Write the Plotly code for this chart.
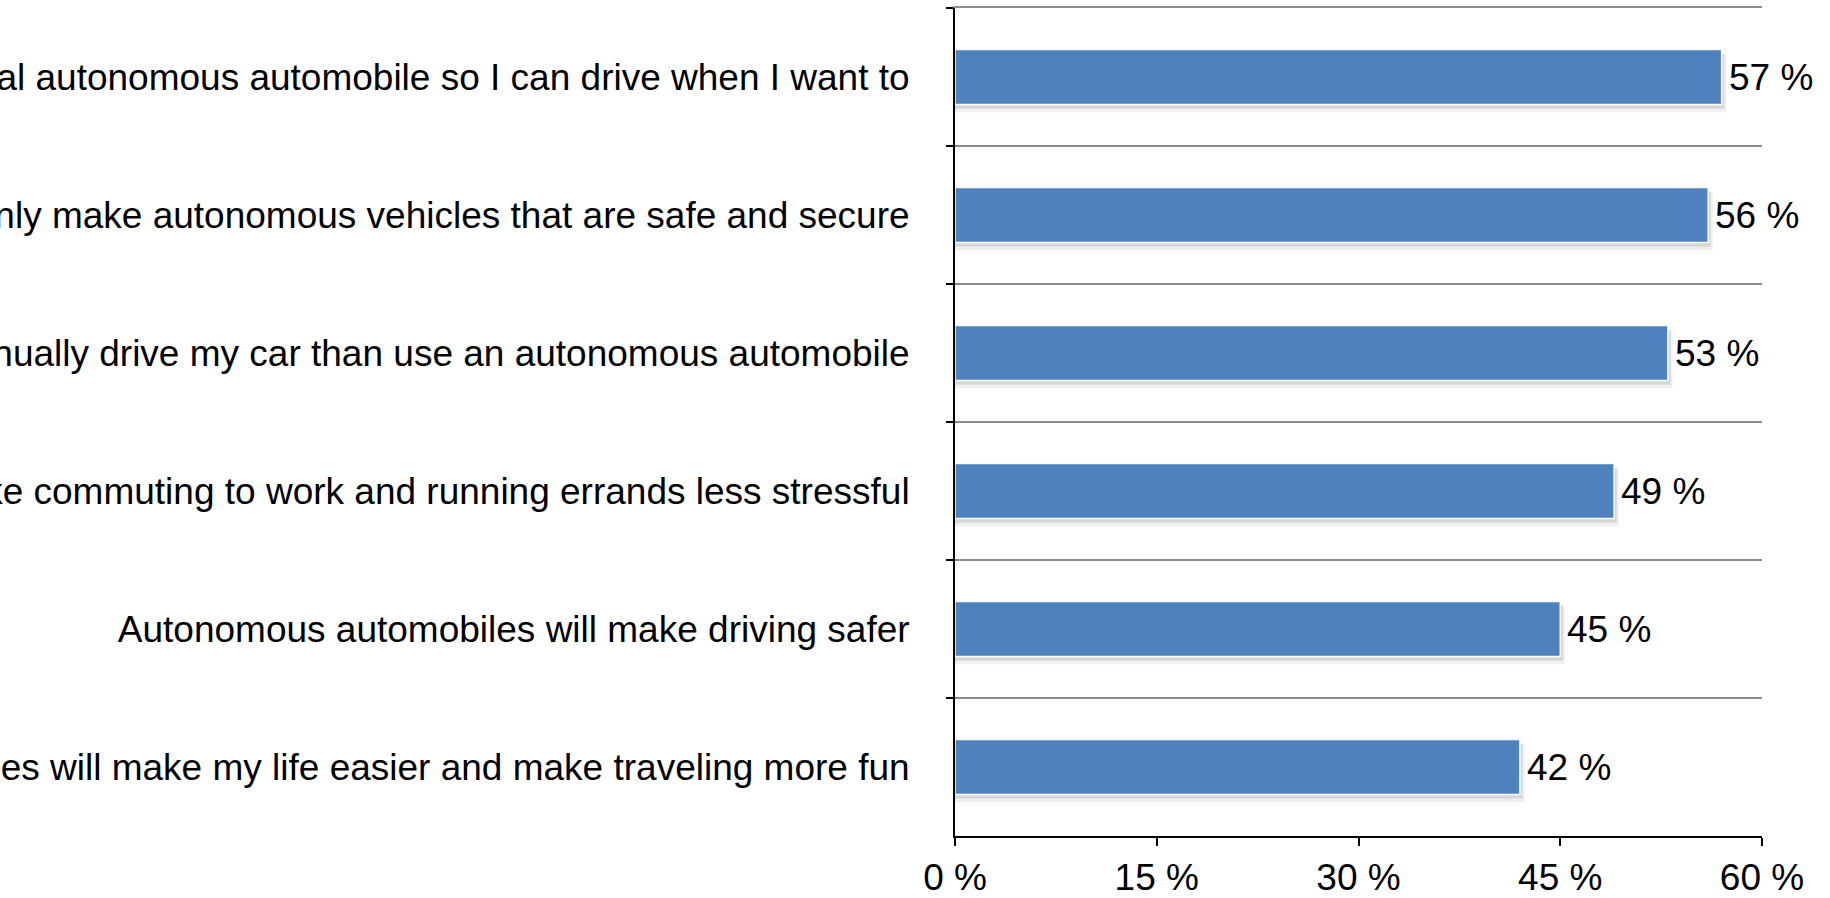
import plotly.graph_objects as go

# Survey statements (top to bottom) and share of respondents agreeing (%)
statements = [
    "I would prefer a partial autonomous automobile so I can drive when I want to",
    "I trust automakers to only make autonomous vehicles that are safe and secure",
    "I would rather manually drive my car than use an autonomous automobile",
    "Autonomous automobiles will make commuting to work and running errands less stressful",
    "Autonomous automobiles will make driving safer",
    "Autonomous automobiles will make my life easier and make traveling more fun",
]
agree_pct = [57, 56, 53, 49, 45, 42]
x_ticks = [0, 15, 30, 45, 60]
x_tick_labels = ["0 %", "15 %", "30 %", "45 %", "60 %"]

BAR_BLUE = "#4F81BD"
GRID_GREY = "#8c8c8c"
FONT = "Liberation Sans, Arial, sans-serif"
BAR_W = 0.40

fig = go.Figure()

# soft drop shadow under each bar
for dx, dy, alpha, extra in [(0.35, 0.045, 0.06, 0.02), (0.2, 0.03, 0.10, 0.0)]:
    fig.add_trace(go.Bar(
        y=statements, x=[v + dx for v in agree_pct], orientation="h",
        width=BAR_W + extra, offset=-(BAR_W + extra) / 2 + dy,
        marker=dict(color=f"rgba(0,0,0,{alpha})", line=dict(width=0)),
        hoverinfo="skip", showlegend=False,
    ))

fig.add_trace(go.Bar(
    y=statements, x=agree_pct, orientation="h",
    width=BAR_W, offset=-BAR_W / 2,
    marker=dict(color=BAR_BLUE, line=dict(color="rgba(255,255,255,0.95)", width=1.5)),
    showlegend=False,
))

# value labels just past the end of each bar
for s, v in zip(statements, agree_pct):
    fig.add_annotation(
        x=v, y=s, text=f"{v} %", showarrow=False,
        xanchor="left", yanchor="middle", xshift=5,
        font=dict(family=FONT, size=37, color="black"),
    )

fig.update_layout(
    width=1830, height=898,
    margin=dict(l=955, r=68, t=8, b=62, autoexpand=False),
    paper_bgcolor="white", plot_bgcolor="white",
    barmode="overlay", bargap=0.6,
    font=dict(family=FONT, size=37, color="black"),
    xaxis=dict(
        range=[0, 60], tickmode="array", tickvals=x_ticks, ticktext=x_tick_labels,
        showgrid=False, zeroline=False,
        showline=True, linecolor="black", linewidth=2,
        ticks="outside", ticklen=8, tickwidth=2, tickcolor="black",
        ticklabelstandoff=0,
        tickfont=dict(family=FONT, size=37, color="black"),
    ),
    # top edge: grey boundary line matching the category grid lines
    xaxis2=dict(
        overlaying="x", side="top", matches="x",
        showline=True, linecolor=GRID_GREY, linewidth=2,
        showgrid=False, zeroline=False, showticklabels=False, ticks="",
    ),
    yaxis=dict(
        type="category", categoryorder="array", categoryarray=statements,
        autorange="reversed", tickson="boundaries",
        showgrid=True, gridcolor=GRID_GREY, gridwidth=2,
        showline=True, linecolor="black", linewidth=2,
        ticks="outside", ticklen=7, tickwidth=2, tickcolor="black",
        ticklabelstandoff=36, automargin=False,
        tickfont=dict(family=FONT, size=37, color="black"),
    ),
)

# an empty trace so the top axis is drawn
fig.add_trace(go.Scatter(x=[], y=[], xaxis="x2", yaxis="y", showlegend=False, hoverinfo="skip"))

fig.write_html("out.html")
